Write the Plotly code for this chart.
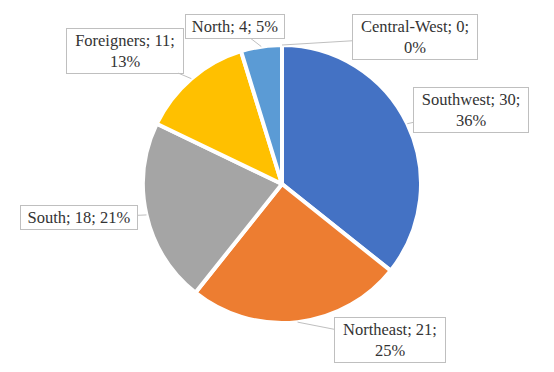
import math
import plotly.graph_objects as go

categories = ["Southwest", "Northeast", "South", "Foreigners", "North", "Central-West"]
values = [30, 21, 18, 11, 4, 0]
colors = ["#4472C4", "#ED7D31", "#A5A5A5", "#FFC000", "#5B9BD5", "#70AD47"]

W, H = 554, 372
CX, CY, R = 282, 184, 139  # pie centre / radius in pixels (from top-left)

# label box offsets (pixels from the slice edge point) and box text widths
label_offsets = {
    "Southwest": (64, -14, 110),
    "Northeast": (92, 18, 106),
    "South": (-67, 3, 112),
    "Foreigners": (-66, -28, 112),
    "North": (-26, -20, 94),
    "Central-West": (133, -8, 120),
}

FONT = "'Liberation Serif', 'DejaVu Serif', serif"

fig = go.Figure(go.Pie(
    labels=categories, values=values, sort=False, direction="clockwise", rotation=0,
    marker=dict(colors=colors, line=dict(color="white", width=4)),
    textinfo="none", hoverinfo="label+value+percent", showlegend=False,
    domain=dict(x=[(CX - R) / W, (CX + R) / W], y=[(H - CY - R) / H, (H - CY + R) / H]),
))

total = sum(values)
cum = 0
annotations = []
for cat, v in zip(categories, values):
    mid = (cum + v / 2) / total * 2 * math.pi
    cum += v
    tx = CX + R * math.sin(mid)
    ty = CY - R * math.cos(mid)
    pct = round(v / total * 100)
    ax, ay, w = label_offsets[cat]
    text = f"{cat}; {v}; {pct}%"
    if len(text) > 14:
        text = f"{cat}; {v};<br>{pct}%"
    annotations.append(dict(
        x=tx / W, y=1 - ty / H, xref="paper", yref="paper",
        text=text, showarrow=True, arrowhead=0, arrowwidth=1, arrowcolor="#BFBFBF",
        ax=ax, ay=ay, width=w,
        bordercolor="#BFBFBF", borderwidth=1, borderpad=2, bgcolor="white",
        font=dict(family=FONT, size=16.5, color="#333333"),
    ))

fig.update_layout(
    width=W, height=H, margin=dict(l=0, r=0, t=0, b=0),
    paper_bgcolor="white", plot_bgcolor="white",
    font=dict(family=FONT),
    annotations=annotations,
)
fig.write_html("out.html", config={"displayModeBar": False},
               post_script="document.body.style.margin='0';")
